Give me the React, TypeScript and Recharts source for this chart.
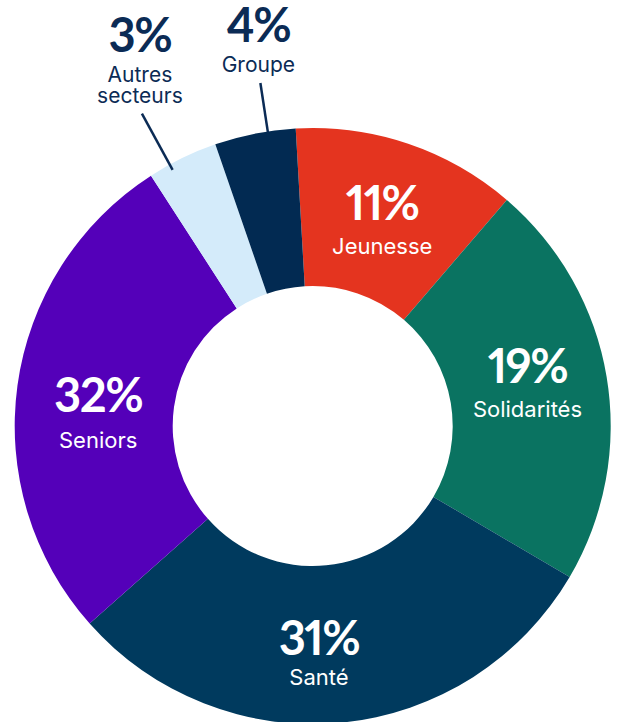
import { Pie, PieChart, Cell } from "recharts";

const categories = ["Jeunesse", "Solidarités", "Santé", "Seniors", "Autres secteurs", "Groupe"];
// share of the ring each slice actually covers in the picture
const drawnShares = [12.2, 22.16, 30.01, 27.41, 3.83, 4.39];
// percentages printed on the chart
const pctLabels = ["11%", "19%", "31%", "32%", "3%", "4%"];
const nameLines = [["Jeunesse"], ["Solidarités"], ["Santé"], ["Seniors"], ["Autres", "secteurs"], ["Groupe"]];

const colors: Record<string, string> = {
  Jeunesse: "#E4341F",
  Solidarités: "#0A7361",
  Santé: "#003A5E",
  Seniors: "#5400B9",
  "Autres secteurs": "#D4EBFA",
  Groupe: "#022A52",
};

const insideLayout: Record<string, { dA: number; r: number; gap: number }> = {
  Jeunesse: { dA: 0, r: 217, gap: 34 },
  Solidarités: { dA: 1.8, r: 219, gap: 34 },
  Santé: { dA: -4, r: 229, gap: 30 },
  Seniors: { dA: 4, r: 215, gap: 36 },
};
const outsideLayout: Record<string, { dA: number; r1: number; r2: number }> = {
  "Autres secteurs": { dA: 2.7, r1: 292, r2: 356 },
  Groupe: { dA: -2.5, r1: 297, r2: 347 },
};

const navy = "#0B2B55";
const RAD = Math.PI / 180;
const font = "Inter, 'Noto Sans', sans-serif";
const numStyle = {
  fontFamily: "Lato, Inter, sans-serif",
  fontWeight: 700,
  fontSize: 47,
  letterSpacing: -1.5,
  fontVariantNumeric: "proportional-nums",
  fontFeatureSettings: '"pnum" 1',
} as const;

const data = categories.map((name, i) => ({ name, value: drawnShares[i] }));

function polar(cx: number, cy: number, r: number, angle: number) {
  return { x: cx + r * Math.cos(-angle * RAD), y: cy + r * Math.sin(-angle * RAD) };
}

function renderLabel(props: any) {
  const { cx, cy, midAngle, index } = props;
  const name = categories[index];
  const inner = insideLayout[name];
  if (inner) {
    const p = polar(cx, cy, inner.r, midAngle + inner.dA);
    return (
      <g key={name}>
        <text x={p.x} y={p.y} textAnchor="middle" fill="#fff" style={numStyle}>
          {pctLabels[index]}
        </text>
        <text x={p.x} y={p.y + inner.gap} textAnchor="middle" fill="#fff" fontFamily={font} fontSize={22}>
          {nameLines[index][0]}
        </text>
      </g>
    );
  }
  const out = outsideLayout[name];
  const a = midAngle + out.dA;
  const p1 = polar(cx, cy, out.r1, a);
  const p2 = polar(cx, cy, out.r2, a);
  const lines = nameLines[index];
  const lastY = p2.y - 11;
  const firstY = lastY - 21 * (lines.length - 1);
  const tx = p2.x - 2;
  return (
    <g key={name}>
      <line x1={p1.x} y1={p1.y} x2={p2.x} y2={p2.y} stroke={navy} strokeWidth={2.5} />
      <text x={tx} y={firstY - 30} textAnchor="middle" fill={navy} style={numStyle}>
        {pctLabels[index]}
      </text>
      {lines.map((l, j) => (
        <text key={l} x={tx} y={firstY + 21 * j} textAnchor="middle" fill={navy} fontFamily={font} fontSize={21}>
          {l}
        </text>
      ))}
    </g>
  );
}

export default function App() {
  return (
    <div style={{ position: "absolute", left: 0, top: 0, background: "#fff" }}>
      <PieChart width={619} height={722} margin={{ top: 0, right: 0, bottom: 0, left: 0 }}>
        <Pie
          data={data}
          dataKey="value"
          nameKey="name"
          cx={312.7}
          cy={426}
          innerRadius={140}
          outerRadius={298}
          startAngle={93.27}
          endAngle={-266.73}
          stroke="none"
          label={renderLabel}
          labelLine={false}
          isAnimationActive={false}
        >
          {data.map((d) => (
            <Cell key={d.name} fill={colors[d.name]} />
          ))}
        </Pie>
      </PieChart>
    </div>
  );
}
